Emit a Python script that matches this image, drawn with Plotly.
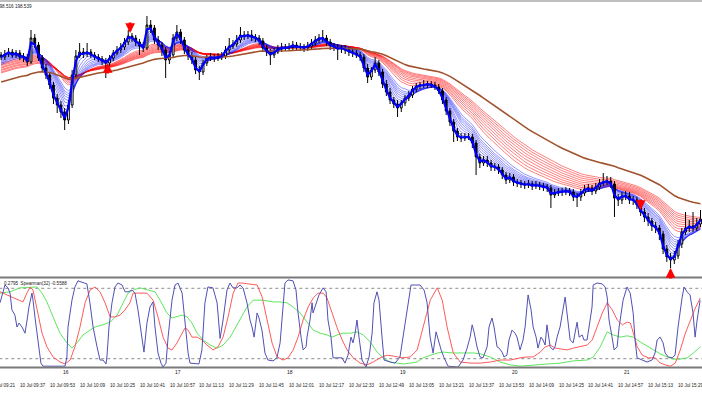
import plotly.graph_objects as go

# ---------------- data ----------------
# 2-minute bars, time axis in minutes after 10 Jul 09:21
bar_start_min = 7
bar_step_min = 2

open_first = 198.490
close = [198.486,198.492,198.496,198.490,198.494,198.486,198.486,198.476,198.524,198.510,
 198.484,198.464,198.450,198.430,198.404,198.390,198.376,198.360,198.390,198.450,
 198.488,198.496,198.492,198.496,198.490,198.486,198.482,198.478,198.474,198.484,
 198.494,198.500,198.506,198.516,198.528,198.524,198.516,198.508,198.504,198.550,
 198.544,198.520,198.510,198.500,198.480,198.490,198.524,198.536,198.520,198.500,
 198.488,198.480,198.460,198.456,198.474,198.484,198.486,198.484,198.486,198.488,
 198.500,198.508,198.512,198.520,198.530,198.528,198.530,198.526,198.524,198.518,
 198.504,198.496,198.490,198.496,198.502,198.506,198.504,198.506,198.510,198.506,
 198.506,198.504,198.508,198.514,198.520,198.524,198.524,198.516,198.508,198.506,
 198.502,198.504,198.500,198.496,198.494,198.490,198.486,198.464,198.446,198.460,
 198.474,198.456,198.432,198.416,198.400,198.392,198.384,198.394,198.404,198.410,
 198.422,198.428,198.430,198.430,198.432,198.430,198.426,198.418,198.400,198.378,
 198.356,198.338,198.326,198.324,198.326,198.326,198.314,198.286,198.274,198.280,
 198.274,198.266,198.266,198.260,198.250,198.240,198.246,198.236,198.234,198.232,
 198.230,198.232,198.228,198.230,198.228,198.226,198.224,198.210,198.214,198.216,
 198.216,198.218,198.216,198.206,198.206,198.214,198.222,198.224,198.218,198.226,
 198.234,198.236,198.238,198.232,198.204,198.200,198.208,198.208,198.200,198.200,
 198.190,198.176,198.166,198.158,198.148,198.144,198.132,198.102,198.086,198.080,
 198.088,198.112,198.136,198.144,198.148,198.144,198.152,198.162]
high = [198.496,198.500,198.504,198.502,198.500,198.500,198.494,198.492,198.540,198.532,
 198.516,198.490,198.472,198.456,198.436,198.412,198.398,198.384,198.400,198.460,
 198.500,198.514,198.504,198.514,198.502,198.496,198.492,198.488,198.484,198.490,
 198.500,198.508,198.514,198.524,198.540,198.534,198.530,198.522,198.516,198.568,
 198.560,198.550,198.528,198.516,198.506,198.498,198.532,198.550,198.542,198.526,
 198.506,198.496,198.486,198.468,198.480,198.490,198.494,198.492,198.494,198.496,
 198.508,198.524,198.520,198.530,198.546,198.538,198.538,198.540,198.532,198.530,
 198.524,198.510,198.502,198.504,198.510,198.514,198.512,198.514,198.518,198.516,
 198.514,198.512,198.516,198.522,198.528,198.532,198.540,198.530,198.522,198.514,
 198.512,198.510,198.510,198.506,198.502,198.500,198.496,198.492,198.472,198.466,
 198.486,198.480,198.462,198.440,198.424,198.406,198.400,198.400,198.410,198.418,
 198.428,198.434,198.436,198.440,198.438,198.438,198.436,198.432,198.424,198.406,
 198.384,198.362,198.344,198.334,198.334,198.334,198.332,198.320,198.292,198.288,
 198.288,198.280,198.274,198.272,198.266,198.256,198.254,198.252,198.242,198.240,
 198.238,198.240,198.238,198.238,198.236,198.234,198.232,198.230,198.222,198.224,
 198.224,198.226,198.224,198.222,198.214,198.222,198.230,198.232,198.230,198.234,
 198.242,198.254,198.248,198.246,198.238,198.212,198.216,198.218,198.216,198.208,
 198.206,198.196,198.184,198.174,198.164,198.156,198.150,198.138,198.110,198.094,
 198.098,198.120,198.144,198.176,198.160,198.176,198.164,198.180]
low = [198.480,198.480,198.486,198.484,198.484,198.480,198.476,198.468,198.472,198.504,
 198.478,198.456,198.442,198.422,198.392,198.374,198.364,198.340,198.352,198.384,
 198.444,198.484,198.484,198.486,198.484,198.480,198.476,198.470,198.444,198.468,
 198.478,198.490,198.494,198.500,198.510,198.516,198.508,198.490,198.496,198.500,
 198.534,198.512,198.500,198.488,198.444,198.472,198.484,198.518,198.512,198.492,
 198.480,198.472,198.452,198.440,198.450,198.468,198.478,198.476,198.478,198.480,
 198.482,198.494,198.502,198.506,198.514,198.520,198.522,198.518,198.516,198.510,
 198.496,198.488,198.470,198.484,198.492,198.496,198.498,198.498,198.500,198.500,
 198.498,198.496,198.498,198.502,198.508,198.514,198.516,198.508,198.500,198.498,
 198.480,198.494,198.492,198.488,198.486,198.484,198.478,198.456,198.434,198.440,
 198.454,198.448,198.424,198.408,198.392,198.384,198.366,198.376,198.388,198.398,
 198.404,198.416,198.422,198.424,198.424,198.424,198.420,198.412,198.392,198.370,
 198.348,198.316,198.318,198.316,198.318,198.320,198.304,198.250,198.264,198.268,
 198.266,198.258,198.258,198.252,198.242,198.232,198.234,198.228,198.226,198.224,
 198.222,198.224,198.220,198.222,198.220,198.218,198.216,198.184,198.204,198.208,
 198.208,198.210,198.208,198.198,198.186,198.198,198.208,198.216,198.210,198.212,
 198.220,198.228,198.230,198.224,198.166,198.188,198.192,198.200,198.192,198.190,
 198.182,198.168,198.156,198.148,198.138,198.134,198.120,198.092,198.076,198.064,
 198.072,198.082,198.104,198.130,198.136,198.136,198.138,198.146]

# moving-average ribbon (periods in 2-minute bars) and their values just before the first bar
blue_periods = [1.5, 2.5, 3.5, 4.5, 5.5, 6.5, 7.5, 8.5, 9.5, 11]
blue_seeds = [198.486, 198.484, 198.482, 198.480, 198.478, 198.476, 198.474, 198.472, 198.470, 198.468]
red_periods = [15, 17, 19, 21, 23, 25, 27, 29, 31]
red_seeds = [198.472, 198.469, 198.467, 198.464, 198.462, 198.459, 198.457, 198.454, 198.452]
brown_period = 48
brown_seed = 198.434

# signal arrows (minute, price at arrow tip)
down_arrow_min = [76, 349]
down_arrow_price = [198.534, 198.180]
up_arrow_min = [64, 365]
up_arrow_price = [198.474, 198.064]

# oscillator window
osc_blue_min = [6.4,8.0,9.1,10.7,11.8,12.8,14.4,15.5,16.6,18.2,
 19.8,20.9,21.9,23.5,24.1,25.1,26.7,28.3,29.4,41.2,
 42.2,42.8,44.9,46.5,48.1,50.8,52.9,54.5,56.2,58.3,
 59.9,61.5,63.1,63.6,64.7,66.3,67.9,69.5,71.7,73.3,
 74.9,77.0,78.6,80.2,82.4,83.4,85.0,86.6,88.2,89.3,
 90.9,92.5,93.6,95.2,96.3,98.4,100.0,101.6,103.8,105.4,
 107.0,108.0,110.7,112.8,114.4,116.0,117.6,120.3,122.5,124.1,
 125.7,127.8,129.4,131.0,133.1,134.8,136.4,138.5,140.1,141.2,
 142.3,143.9,144.9,146.5,148.1,149.7,152.4,154.5,156.2,157.8,
 158.8,160.4,163.1,164.7,165.8,167.4,168.5,170.1,170.6,172.2,
 173.3,173.8,175.4,177.0,179.2,180.8,181.8,183.4,184.5,187.2,
 189.3,190.9,192.5,194.1,195.2,196.3,197.3,198.4,200.0,202.1,
 203.8,205.4,206.4,208.0,209.1,210.7,211.8,215.0,217.7,220.3,
 221.9,224.1,226.2,228.4,231.0,233.2,234.8,236.4,238.0,239.6,
 241.2,242.3,243.9,246.0,251.4,254.0,256.2,257.8,258.9,259.9,
 261.5,263.1,264.7,266.9,267.9,269.5,270.6,272.2,273.3,274.9,
 275.9,277.5,278.6,280.2,281.8,282.9,284.5,286.1,287.2,288.8,
 290.4,291.5,293.1,294.1,295.7,296.8,297.9,298.9,300.6,302.2,
 303.2,304.3,305.9,307.5,308.6,309.6,311.3,312.9,313.9,315.0,
 316.1,317.7,318.7,320.3,321.4,323.0,323.6,325.7,328.4,330.0,
 331.1,332.1,333.7,334.8,336.4,337.5,339.6,341.7,343.4,345.0,
 346.0,347.1,349.8,352.4,355.1,356.7,357.8,359.4,361.0,362.1,
 363.7,365.8,367.4,369.0,371.2,372.2,373.8,375.4,377.0,378.1,
 379.2,380.8]
osc_blue = [0.47,0.72,0.875,0.81,0.69,0.31,0.19,-0.08,0.01,-0.08,
 -0.22,0.08,0.375,0.69,0.53,0.15,-0.44,-0.90,-0.97,-0.97,
 -0.76,-0.08,0.53,0.83,0.97,0.94,0.90,0.47,-0.08,-0.53,
 -0.83,-0.83,-0.92,-0.76,-0.08,0.47,0.83,0.92,0.875,0.72,
 0.72,0.76,0.69,0.31,-0.44,-0.65,0.01,0.375,0.49,-0.08,
 -0.67,-0.90,-0.99,-0.90,-0.31,0.53,0.875,0.92,0.69,-0.08,
 -0.67,-0.90,-0.92,-0.92,-0.60,0.47,0.83,0.81,0.47,-0.34,
 0.08,0.76,0.92,0.81,0.81,0.875,0.81,0.47,0.08,-0.08,
 -0.31,0.24,0.125,-0.15,-0.67,-0.83,-0.85,-0.78,-0.44,0.47,
 0.92,0.99,0.97,0.76,0.24,-0.31,-0.60,-0.53,-0.31,0.08,
 0.47,0.24,0.47,0.65,0.81,0.72,0.08,-0.31,-0.78,-0.78,
 -0.78,-0.90,-0.72,-0.31,-0.44,-0.22,0.08,-0.31,-0.83,-0.99,
 -0.76,-0.22,0.47,0.72,0.53,-0.31,-0.83,-0.875,-0.90,-0.76,
 -0.31,0.31,0.875,0.875,0.875,0.76,0.47,-0.31,-0.67,-0.19,
 -0.44,-0.60,-0.78,-0.97,-0.99,-0.83,-0.56,-0.31,-0.03,-0.19,
 -0.53,-0.76,-0.78,-0.53,-0.08,0.125,-0.08,-0.53,-0.56,-0.65,
 -0.76,-0.72,-0.375,-0.15,-0.22,-0.31,-0.60,-0.375,-0.08,0.65,
 0.31,-0.08,-0.31,-0.56,-0.31,-0.375,-0.49,-0.03,-0.53,-0.60,
 -0.53,-0.31,-0.08,0.31,0.60,0.24,-0.375,-0.44,-0.19,0.03,
 -0.31,-0.26,-0.375,-0.375,-0.08,0.375,0.875,0.92,0.90,0.83,
 0.60,0.08,-0.31,-0.60,-0.53,-0.08,0.53,0.83,0.69,0.24,
 -0.375,-0.78,-0.83,-0.875,-0.83,-0.67,-0.375,-0.31,-0.44,-0.67,
 -0.76,-0.78,-0.72,-0.08,0.60,0.83,0.72,0.65,0.24,-0.31,
 0.08,0.53]
osc_red_min = [6.4,14.4,17.1,18.7,20.8,22.5,24.1,26.2,28.9,31.5,
 34.8,38.5,41.2,43.9,46.5,49.2,51.9,54.6,57.2,59.9,
 62.6,65.3,67.9,70.6,73.3,75.9,77.6,79.7,85.0,88.3,
 90.9,93.6,96.3,98.4,101.1,103.8,105.4,107.0,109.1,111.8,
 114.5,117.1,120.4,123.0,125.7,128.4,131.1,133.7,135.9,139.1,
 143.9,146.6,149.2,151.9,154.6,157.8,160.5,163.2,165.8,168.5,
 171.2,173.9,176.5,179.2,181.3,184.0,186.7,189.4,192.0,195.3,
 199.0,202.7,206.0,209.7,213.4,216.7,221.5,225.8,229.5,232.7,
 236.5,240.2,242.9,245.5,248.8,252.5,257.9,263.2,268.6,273.9,
 279.3,284.6,288.3,291.6,295.3,298.0,300.7,303.3,306.0,309.7,
 313.0,316.7,320.4,323.1,325.8,328.5,331.1,333.8,336.5,339.2,
 341.8,343.5,345.1,347.2,349.9,353.1,356.8,359.5,362.2,364.9,
 367.5,370.2,372.9,375.6,378.2,380.9]
osc_red = [0.72,0.58,0.53,0.49,0.69,0.83,0.76,0.31,-0.22,-0.53,
 -0.76,-0.875,-0.92,-0.83,-0.53,-0.08,0.47,0.76,0.83,0.72,
 0.47,0.15,0.15,0.19,0.31,0.47,0.69,0.69,0.69,0.53,
 0.15,-0.31,-0.56,-0.60,-0.44,-0.22,-0.10,-0.15,-0.31,-0.31,
 -0.375,-0.49,-0.60,-0.53,-0.31,0.15,0.69,0.92,0.92,0.90,
 0.875,0.60,0.08,-0.44,-0.76,-0.83,-0.78,-0.60,-0.31,0.08,
 0.375,0.58,0.69,0.69,0.58,0.24,-0.10,-0.375,-0.60,-0.78,
 -0.90,-0.94,-0.875,-0.78,-0.72,-0.74,-0.78,-0.76,-0.60,-0.08,
 0.53,0.81,0.53,-0.08,-0.67,-0.875,-0.90,-0.90,-0.875,-0.83,
 -0.83,-0.78,-0.76,-0.76,-0.65,-0.53,-0.49,-0.56,-0.58,-0.60,
 -0.56,-0.53,-0.49,-0.375,-0.08,0.24,0.47,0.31,0.08,-0.03,
 0.03,0.01,-0.22,-0.53,-0.72,-0.78,-0.78,-0.90,-0.94,-0.97,
 -0.90,-0.60,-0.22,0.08,0.35,0.58]
osc_green_min = [6.4,11.8,17.1,22.5,26.2,28.9,31.5,34.8,38.5,42.2,
 44.9,47.6,50.8,54.6,57.2,61.5,65.3,69.0,72.2,74.9,
 77.6,81.3,85.6,89.3,92.0,95.7,98.4,101.1,103.8,106.4,
 109.1,111.8,115.0,118.8,122.5,125.7,129.5,133.7,138.5,141.8,
 147.1,152.5,156.2,159.9,163.2,166.9,170.6,173.9,177.6,181.3,
 184.0,186.7,189.9,193.7,197.4,200.6,204.4,208.1,211.3,215.1,
 218.8,222.0,225.8,229.5,232.7,236.5,240.2,243.4,248.8,254.1,
 259.5,263.2,268.6,273.9,279.3,284.6,291.6,299.1,306.0,313.0,
 320.4,323.7,327.4,331.1,334.4,338.1,341.8,345.1,348.8,352.5,
 355.8,359.5,363.2,366.5,370.2,373.9,377.2,380.9]
osc_green = [0.69,0.72,0.81,0.83,0.83,0.69,0.49,0.15,-0.22,-0.44,
 -0.56,-0.44,-0.26,-0.15,-0.08,-0.03,0.03,0.19,0.47,0.69,
 0.76,0.81,0.76,0.72,0.53,0.24,0.125,0.15,0.19,0.15,
 0.01,-0.22,-0.375,-0.49,-0.56,-0.49,-0.31,0.01,0.375,0.53,
 0.53,0.49,0.49,0.47,0.375,0.24,0.03,-0.15,-0.22,-0.26,
 -0.31,-0.26,-0.22,-0.22,-0.19,-0.26,-0.42,-0.65,-0.78,-0.875,
 -0.90,-0.92,-0.90,-0.875,-0.78,-0.72,-0.67,-0.65,-0.67,-0.67,
 -0.67,-0.69,-0.76,-0.875,-0.94,-0.97,-0.94,-0.92,-0.90,-0.85,
 -0.83,-0.76,-0.53,-0.19,-0.26,-0.31,-0.28,-0.31,-0.42,-0.51,
 -0.60,-0.69,-0.76,-0.81,-0.81,-0.78,-0.67,-0.53]
osc_levels = [0.8, -0.8]

time_tick_min = [0, 16, 32, 48, 64, 80, 96, 112, 128, 144, 160, 176,
                 192, 208, 224, 240, 256, 272, 288, 304, 320, 336, 352, 368]
time_tick_text = ["10 Jul 09:21", "10 Jul 09:37", "10 Jul 09:53", "10 Jul 10:09",
                  "10 Jul 10:25", "10 Jul 10:41", "10 Jul 10:57", "10 Jul 11:13",
                  "10 Jul 11:29", "10 Jul 11:45", "10 Jul 12:01", "10 Jul 12:17",
                  "10 Jul 12:33", "10 Jul 12:49", "10 Jul 13:05", "10 Jul 13:21",
                  "10 Jul 13:37", "10 Jul 13:53", "10 Jul 14:09", "10 Jul 14:25",
                  "10 Jul 14:41", "10 Jul 14:57", "10 Jul 15:13", "10 Jul 15:29"]
hour_tick_min = [39, 99, 159, 219, 279, 339]
hour_tick_text = ["16", "17", "18", "19", "20", "21"]

top_label = "198.516 198.539"
osc_label = "0.2795  Spearman(32) -0.5588"

# ---------------- build ----------------
W, H = 702, 395
X0, X1 = 6.42, 381.8
PRICE_RANGE = [198.048, 198.594]

def py(px):  # paper y from pixel row
    return 1 - px / H

def xp(t):  # paper x of a minute value on the shared time axis
    return (t - X0) / (X1 - X0)

n = len(close)
bar_min = [bar_start_min + bar_step_min * i for i in range(n)]
opens = [open_first] + close[:-1]

def ema(values, period, seed):
    a = 2.0 / (period + 1.0)
    e = seed
    out = []
    for v in values:
        e = e + a * (v - e)
        out.append(e)
    return out

fig = go.Figure()

# layer 1 (base axis y): slow red ribbon and thin blue ribbon
for k in range(len(red_periods)):
    fig.add_trace(go.Scatter(
        x=bar_min, y=ema(close, red_periods[k], red_seeds[k]), mode="lines",
        line=dict(color="rgba(255,0,0,0.5)", width=1),
        hoverinfo="skip", xaxis="x", yaxis="y"))
for k in range(len(blue_periods) - 1, 0, -1):
    fig.add_trace(go.Scatter(
        x=bar_min, y=ema(close, blue_periods[k], blue_seeds[k]), mode="lines",
        line=dict(color="rgba(20,20,255,0.5)", width=0.9),
        hoverinfo="skip", xaxis="x", yaxis="y"))

# layer 2 (overlay y3): candles
fig.add_trace(go.Candlestick(
    x=bar_min, open=opens, high=high, low=low, close=close,
    increasing=dict(line=dict(color="#000000", width=1), fillcolor="#ffffff"),
    decreasing=dict(line=dict(color="#000000", width=1), fillcolor="#000000"),
    whiskerwidth=0, hoverinfo="skip", xaxis="x", yaxis="y3"))

# layer 3 (overlay y4): long average and fastest average
fig.add_trace(go.Scatter(
    x=bar_min, y=ema(close, brown_period, brown_seed), mode="lines",
    line=dict(color="#a0522d", width=1.6), hoverinfo="skip", xaxis="x", yaxis="y4"))
fig.add_trace(go.Scatter(
    x=bar_min, y=ema(close, blue_periods[0], blue_seeds[0]), mode="lines",
    line=dict(color="#0000ff", width=2.2), hoverinfo="skip", xaxis="x", yaxis="y4"))

# oscillator
for lv in osc_levels:
    fig.add_trace(go.Scatter(
        x=[X0 - 10, X1 + 10], y=[lv, lv], mode="lines",
        line=dict(color="#8c8c8c", width=1, dash="dot"),
        hoverinfo="skip", xaxis="x", yaxis="y2"))
fig.add_trace(go.Scatter(x=osc_green_min, y=osc_green, mode="lines",
                         line=dict(color="#5ee65e", width=1), hoverinfo="skip",
                         xaxis="x", yaxis="y2"))
fig.add_trace(go.Scatter(x=osc_red_min, y=osc_red, mode="lines",
                         line=dict(color="#ff5a5a", width=1), hoverinfo="skip",
                         xaxis="x", yaxis="y2"))
fig.add_trace(go.Scatter(x=osc_blue_min, y=osc_blue, mode="lines",
                         line=dict(color="#5050b4", width=1), hoverinfo="skip",
                         xaxis="x", yaxis="y2"))

annotations = []
for t, p in zip(down_arrow_min, down_arrow_price):
    annotations.append(dict(x=t, y=p, xref="x", yref="y4", text="", showarrow=True,
                            ax=0, ay=-12, arrowhead=2, arrowsize=0.65, arrowwidth=3,
                            arrowcolor="#ff0000"))
for t, p in zip(up_arrow_min, up_arrow_price):
    annotations.append(dict(x=t, y=p, xref="x", yref="y4", text="", showarrow=True,
                            ax=0, ay=12, arrowhead=2, arrowsize=0.65, arrowwidth=3,
                            arrowcolor="#ff0000"))

small = dict(family="Liberation Sans", size=4.6, color="#202020")
for t, s in zip(time_tick_min, time_tick_text):
    annotations.append(dict(x=xp(t), y=py(385), xref="paper", yref="paper", text=s,
                            showarrow=False, xanchor="left", yanchor="middle", font=small))
for t, s in zip(hour_tick_min, hour_tick_text):
    annotations.append(dict(x=xp(t), y=py(372), xref="paper", yref="paper", text=s,
                            showarrow=False, xanchor="left", yanchor="middle",
                            font=dict(family="Liberation Sans", size=5, color="#202020")))
annotations.append(dict(x=34 / W, y=py(7), xref="paper", yref="paper", text=top_label,
                        showarrow=False, xanchor="right", yanchor="middle", font=small))
annotations.append(dict(x=2 / W, y=py(283.5), xref="paper", yref="paper", text=osc_label,
                        showarrow=False, xanchor="left", yanchor="middle", font=small))

shapes = [
    dict(type="line", xref="paper", yref="paper", x0=0, x1=1, y0=py(1), y1=py(1),
         line=dict(color="#a8a8a8", width=1.5)),
    dict(type="line", xref="paper", yref="paper", x0=0, x1=1, y0=py(277.5), y1=py(277.5),
         line=dict(color="#7a7a7a", width=2.2)),
    dict(type="line", xref="paper", yref="paper", x0=0, x1=1, y0=py(367.5), y1=py(367.5),
         line=dict(color="#7a7a7a", width=2.2)),
]

hidden = dict(visible=False, showgrid=False, zeroline=False, fixedrange=True)
fig.update_layout(
    width=W, height=H, margin=dict(l=0, r=0, t=0, b=0),
    paper_bgcolor="#ffffff", plot_bgcolor="#ffffff", showlegend=False,
    xaxis=dict(range=[X0, X1], rangeslider=dict(visible=False), **hidden),
    yaxis=dict(domain=[py(276), py(3)], range=PRICE_RANGE, **hidden),
    yaxis3=dict(overlaying="y", range=PRICE_RANGE, anchor="x", **hidden),
    yaxis4=dict(overlaying="y", range=PRICE_RANGE, anchor="x", **hidden),
    yaxis2=dict(domain=[py(368), py(279)], range=[-1.0114, 1.0114], anchor="x", **hidden),
    annotations=annotations, shapes=shapes,
)

fig.write_html("out.html", config={"displayModeBar": False},
               post_script="document.body.style.margin='0px';document.body.style.overflow='hidden';")
